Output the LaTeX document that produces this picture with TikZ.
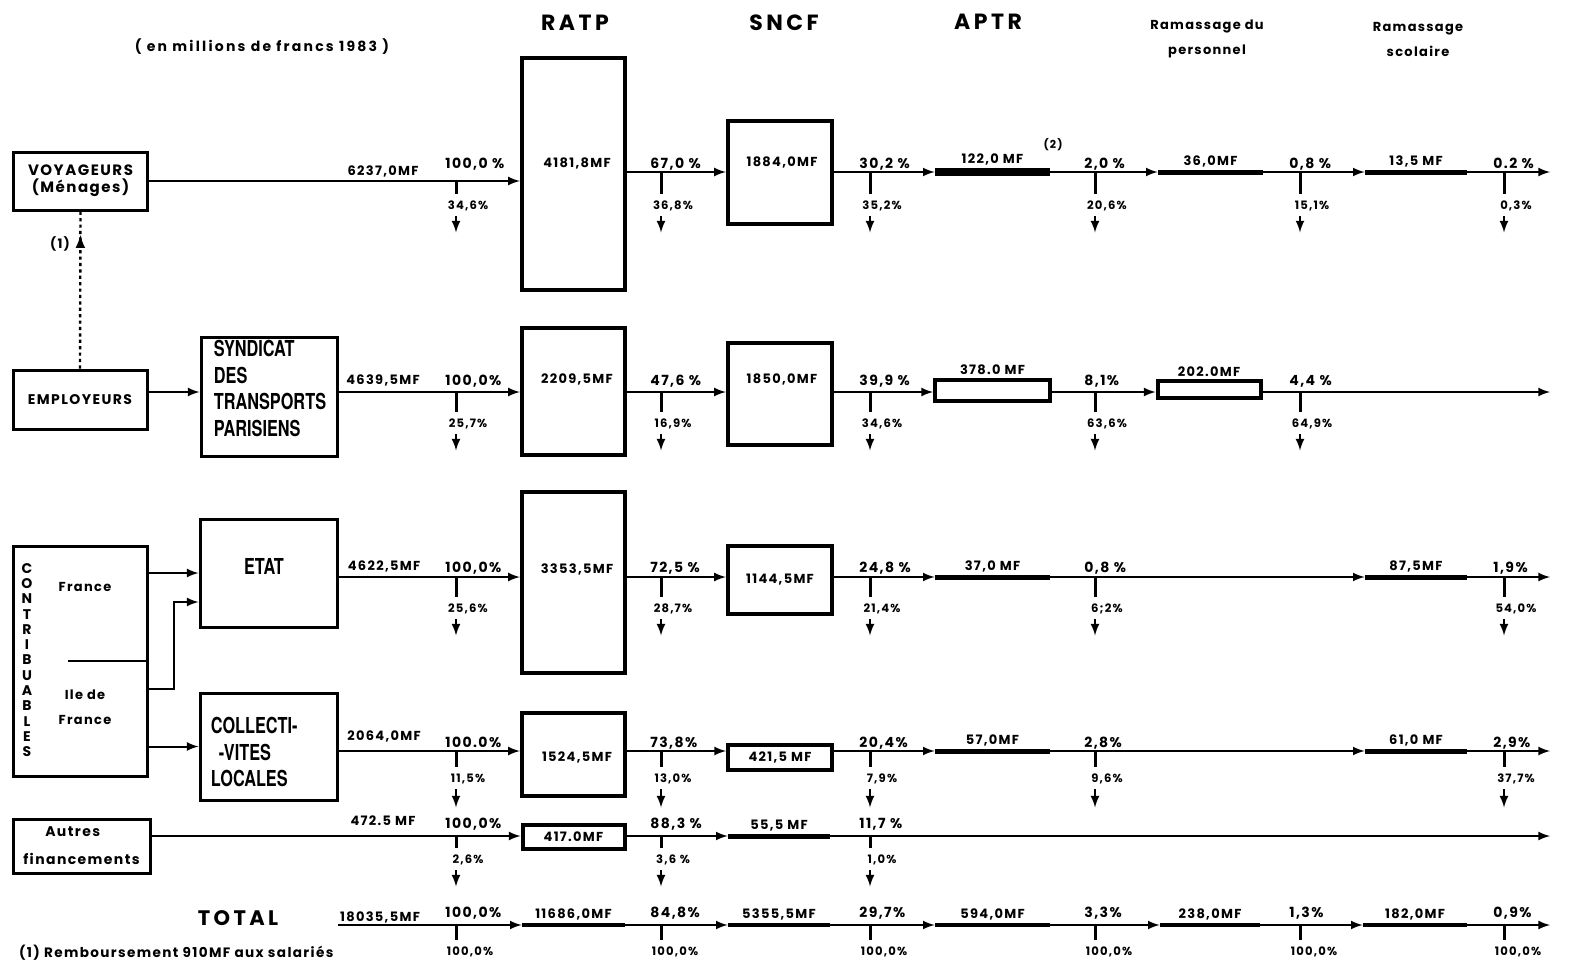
\documentclass[tikz,border=0pt]{standalone}
\usepackage{fontspec}
\setmainfont{Poppins}[LetterSpace=10]
\newfontfamily\headfont{Poppins}[LetterSpace=16]
\newfontfamily\condfont{TeX Gyre Heros}[FakeStretch=0.74]
\usepackage{tikz}
\usetikzlibrary{positioning}
\usetikzlibrary{decorations.markings}

\tikzset{
	flow/.style={-latex,line width=1pt},
	tick/.style={line width=1.5pt},
	bigbox/.style={draw,line width=2.2pt,inner sep=0pt},
	srcbox/.style={draw,line width=1.5pt,inner sep=0pt},
	mfbar/.style={fill,inner sep=0pt,minimum height=#1},
	mfbar/.default=2pt,
	slot/.style={draw,line width=2pt,inner sep=0pt},
	pct/.style={font=\fontsize{7}{8}\selectfont\bfseries,inner sep=0pt,anchor=base west},
	mf/.style={font=\fontsize{6.5}{7}\selectfont\bfseries,inner sep=1pt},
	sub/.style={font=\fontsize{5.8}{6}\selectfont\bfseries,inner sep=0.5pt},
	head/.style={font=\headfont\fontsize{11}{12}\selectfont\bfseries},
	txt/.style={font=\fontsize{6.5}{12.5}\selectfont\bfseries},
	cond/.style={font=\condfont\fontsize{11}{13.4}\selectfont\bfseries,align=left,inner sep=0pt}
}

\begin{document}
\begin{tikzpicture}[x=0.5pt,y=-0.5pt]
	\useasboundingbox (0,0) rectangle (1575,964);
	
	% titles
	\node [txt,font=\headfont\fontsize{7}{8}\selectfont\bfseries] (unit) at (262,47) {( en millions de francs 1983 )};
	\node [head] (hratp) at (575,23) {RATP};
	\node [head] (hsncf) at (784,23) {SNCF};
	\node [head] (haptr) at (988,22) {APTR};
	\node [txt,align=center] (hperso) at (1207,39) {Ramassage du\\personnel};
	\node [txt,align=center] (hscol) at (1418,39) {Ramassage\\scolaire};
	
	% sources
	\node [srcbox,minimum width=67pt,minimum height=29pt,align=center,font=\fontsize{7.5}{8.5}\selectfont\bfseries] (voy) at (80.5,181) {VOYAGEURS\\(Ménages)};
	\node [srcbox,minimum width=67pt,minimum height=29.5pt,font=\fontsize{7}{8}\selectfont\bfseries] (emp) at (80,399.5) {EMPLOYEURS};
	\draw [line width=1.2pt,dash pattern=on 1.6pt off 1.6pt,postaction={decorate},decoration={markings,mark=at position 0.85 with {\arrow{latex}}}] (emp.north) -- (voy.south);
	\node [txt] (note1) at (60,244) {(1)};
	\node [srcbox,minimum width=67pt,minimum height=115pt] (contrib) at (80,661) {};
	\node [font=\fontsize{7}{7.65}\selectfont\bfseries,align=center,inner sep=0pt] (contribtxt) at (27,660) {C\\O\\N\\T\\R\\I\\B\\U\\A\\B\\L\\E\\S};
	\node [txt] (fr) at (85,587) {France};
	\node [txt,align=center] (idf) at (85,707) {Ile de\\France};
	\coordinate (divl) at (68,661);
	\draw [line width=1.2pt] (divl) -- (divl -| contrib.east);
	\node [srcbox,minimum width=68.5pt,minimum height=27pt,align=left,font=\fontsize{7}{14}\selectfont\bfseries] (autres) at (81.5,846) {\hspace{11pt}Autres\\financements};
	
	% intermediaries
	\node [srcbox,minimum width=68pt,minimum height=59.5pt] (stp) at (269,396.5) {};
	\node [cond,anchor=north west] (stptxt) at ([xshift=7pt,yshift=-2pt]stp.north west) {SYNDICAT\\DES\\TRANSPORTS\\PARISIENS};
	\node [srcbox,minimum width=68.5pt,minimum height=54pt] (etat) at (268.5,573) {};
	\node [cond] (etattxt) at (264,566) {ETAT};
	\node [srcbox,minimum width=68.5pt,minimum height=53.5pt] (coll) at (268.5,746.5) {};
	\node [cond,anchor=north west] (colltxt) at ([xshift=6pt,yshift=-12.5pt]coll.north west) {COLLECTI-\\\hspace{4pt}-VITES\\LOCALES};
	\node [font=\headfont\fontsize{10.5}{12}\selectfont\bfseries] (total) at (238,918) {TOTAL};
	\node [txt,font=\fontsize{6.8}{8}\selectfont\bfseries,anchor=west] (foot) at (12,953) {(1) Remboursement 910MF aux salariés};
	
	% row lines
	\coordinate (r1) at (0,172);
	\coordinate (r2) at (0,392);
	\coordinate (r3) at (0,577);
	\coordinate (r4) at (0,751);
	\coordinate (r5) at (0,836);
	\coordinate (r6) at (0,925);
	
	% row 1
	\node [bigbox,minimum width=51.5pt,minimum height=116pt] (ratp1) at (573.5,174) {};
	\node [mf] at (577,163) {4181,8MF};
	\node [bigbox,minimum width=52pt,minimum height=51.5pt] (sncf1) at (780,172.5) {};
	\node [mf] at (782,162) {1884,0MF};
	\node [mfbar=4pt,minimum width=57.5pt,label={[mf]above:{122,0 MF}}] (aptr1) at (992.5,172) {};
	\node [font=\fontsize{5.5}{6}\selectfont\bfseries] (note2) at (1053,145) {(2)};
	\node [mfbar=2.5pt,minimum width=52.5pt,label={[mf]above:{36,0MF}}] (perso1) at (1210.5,172) {};
	\node [mfbar=2.5pt,minimum width=51pt,label={[mf]above:{13,5 MF}}] (scol1) at (1416,172) {};
	\coordinate (end1) at (1550,172);
	\node [mf,anchor=base] at (383,175) {6237,0MF};
	\draw [flow] (voy.east) -- (voy.east -| ratp1.west);
	\draw [flow] (ratp1.east |- r1) -- (sncf1.west |- r1);
	\draw [flow] (sncf1.east |- r1) -- (aptr1.west);
	\draw [flow] (aptr1.east) -- (perso1.west);
	\draw [flow] (perso1.east) -- (scol1.west);
	\draw [flow] (scol1.east) -- (end1);
	\foreach \n/\x/\y/\tp/\bt in {a/456/181/{100,0 \%}/{34,6\%},b/661/172/{67,0 \%}/{36,8\%},c/870/172/{30,2 \%}/{35,2\%},d/1095/172/{2,0 \%}/{20,6\%},e/1300/172/{0,8 \%}/{15,1\%},f/1504/172/{0.2 \%}/{0,3\%}}{
		\coordinate (v1\n) at (\x,\y);
		\node [pct] (p1\n) at (\x-11,168) {\tp};
		\node [sub] (s1\n) at (\x+12,206) {\bt};
		\draw [tick] (v1\n) -- ([yshift=3pt]s1\n.north -| v1\n);
		\draw [flow] ([yshift=-2pt]s1\n.south -| v1\n) -- ++(0,16);
	}
	
	% row 2
	\node [bigbox,minimum width=51.5pt,minimum height=63.5pt] (ratp2) at (573.5,391.5) {};
	\node [mf] at (577,379) {2209,5MF};
	\node [bigbox,minimum width=52pt,minimum height=51pt] (sncf2) at (780,394) {};
	\node [mf] at (782,379) {1850,0MF};
	\node [slot,minimum width=57.5pt,minimum height=10.5pt,label={[mf]above:{378.0 MF}}] (aptr2) at (992.5,390) {};
	\node [slot,minimum width=51.5pt,minimum height=8.5pt,label={[mf]above:{202.0MF}}] (perso2) at (1209,389.5) {};
	\coordinate (end2) at (1550,392);
	\node [mf,anchor=base] at (383,384) {4639,5MF};
	\draw [flow] (emp.east |- r2) -- (stp.west |- r2);
	\draw [flow] (stp.east |- r2) -- (ratp2.west |- r2);
	\draw [flow] (ratp2.east |- r2) -- (sncf2.west |- r2);
	\draw [flow] (sncf2.east |- r2) -- (aptr2.west |- r2);
	\draw [flow] (aptr2.east |- r2) -- (perso2.west |- r2);
	\draw [flow] (perso2.east |- r2) -- (end2);
	\foreach \n/\x/\tp/\bt in {a/456/{100,0\%}/{25,7\%},b/661/{47,6 \%}/{16,9\%},c/870/{39,9 \%}/{34,6\%},d/1095/{8,1\%}/{63,6\%},e/1300/{4,4 \%}/{64,9\%}}{
		\coordinate (v2\n) at (\x,392);
		\node [pct] (p2\n) at (\x-11,385) {\tp};
		\node [sub] (s2\n) at (\x+12,424) {\bt};
		\draw [tick] (v2\n) -- ([yshift=3pt]s2\n.north -| v2\n);
		\draw [flow] ([yshift=-2pt]s2\n.south -| v2\n) -- ++(0,16);
	}
	
	% row 3
	\node [bigbox,minimum width=51.5pt,minimum height=90.5pt] (ratp3) at (573.5,582.5) {};
	\node [mf] at (577,569) {3353,5MF};
	\node [bigbox,minimum width=52pt,minimum height=34pt,mf] (sncf3) at (780,580) {1144,5MF};
	\node [mfbar=2.5pt,minimum width=57.5pt,label={[mf]above:{37,0 MF}}] (aptr3) at (992.5,577) {};
	\node [mfbar=2.5pt,minimum width=51pt,label={[mf]above:{87,5MF}}] (scol3) at (1416,577) {};
	\coordinate (end3) at (1550,577);
	\node [mf,anchor=base] at (384,570) {4622,5MF};
	\draw [flow] (contrib.east |- etat.west) -- (etat.west);
	\coordinate (ile) at (0,689);
	\coordinate (bend) at (174,602);
	\draw [flow] (contrib.east |- ile) -| (bend) -- (etat.west |- bend);
	\draw [flow] (etat.east |- r3) -- (ratp3.west |- r3);
	\draw [flow] (ratp3.east |- r3) -- (sncf3.west |- r3);
	\draw [flow] (sncf3.east |- r3) -- (aptr3.west);
	\draw [flow] (aptr3.east) -- (scol3.west);
	\draw [flow] (scol3.east) -- (end3);
	\foreach \n/\x/\tp/\bt in {a/456/{100,0\%}/{25,6\%},b/661/{72,5 \%}/{28,7\%},c/870/{24,8 \%}/{21,4\%},d/1095/{0,8 \%}/{6;2\%},f/1504/{1,9\%}/{54,0\%}}{
		\coordinate (v3\n) at (\x,577);
		\node [pct] (p3\n) at (\x-11,572) {\tp};
		\node [sub] (s3\n) at (\x+12,609) {\bt};
		\draw [tick] (v3\n) -- ([yshift=3pt]s3\n.north -| v3\n);
		\draw [flow] ([yshift=-2pt]s3\n.south -| v3\n) -- ++(0,16);
	}
	
	% row 4
	\node [bigbox,minimum width=51.5pt,minimum height=41.5pt] (ratp4) at (573.5,754.5) {};
	\node [mf] at (577,757) {1524,5MF};
	\node [mf,slot,minimum width=52pt,minimum height=12.5pt] (sncf4) at (780,757.5) {421,5 MF};
	\node [mfbar=2.5pt,minimum width=57.5pt,label={[mf]above:{57,0MF}}] (aptr4) at (992.5,751) {};
	\node [mfbar=2.5pt,minimum width=51pt,label={[mf]above:{61,0 MF}}] (scol4) at (1416,751) {};
	\coordinate (end4) at (1550,751);
	\node [mf,anchor=base] at (384,740) {2064,0MF};
	\draw [flow] (contrib.east |- coll.west) -- (coll.west);
	\draw [flow] (coll.east |- r4) -- (ratp4.west |- r4);
	\draw [flow] (ratp4.east |- r4) -- (sncf4.west |- r4);
	\draw [flow] (sncf4.east |- r4) -- (aptr4.west);
	\draw [flow] (aptr4.east) -- (scol4.west);
	\draw [flow] (scol4.east) -- (end4);
	\foreach \n/\x/\tp/\bt in {a/456/{100.0\%}/{11,5\%},b/661/{73,8\%}/{13,0\%},c/870/{20,4\%}/{7,9\%},d/1095/{2,8\%}/{9,6\%},f/1504/{2,9\%}/{37,7\%}}{
		\coordinate (v4\n) at (\x,751);
		\node [pct] (p4\n) at (\x-11,747) {\tp};
		\node [sub] (s4\n) at (\x+12,779) {\bt};
		\draw [tick] (v4\n) -- ([yshift=3pt]s4\n.north -| v4\n);
		\draw [flow] ([yshift=-2pt]s4\n.south -| v4\n) -- ++(0,18);
	}
	
	% row 5
	\node [mf,slot,minimum width=51pt,minimum height=12pt] (ratp5) at (573.5,837) {417.0MF};
	\node [mfbar=2.5pt,minimum width=51pt,label={[mf]above:{55,5 MF}}] (sncf5) at (779,836) {};
	\coordinate (end5) at (1550,836);
	\node [mf,anchor=base] at (383,825) {472.5 MF};
	\draw [flow] (autres.east |- r5) -- (ratp5.west |- r5);
	\draw [flow] (ratp5.east |- r5) -- (sncf5.west);
	\draw [flow] (sncf5.east) -- (end5);
	\foreach \n/\x/\tp/\bt in {a/456/{100,0\%}/{2,6\%},b/661/{88,3 \%}/{3,6 \%},c/870/{11,7 \%}/{1,0\%}}{
		\coordinate (v5\n) at (\x,836);
		\node [pct] (p5\n) at (\x-11,828) {\tp};
		\node [sub] (s5\n) at (\x+12,860) {\bt};
		\draw [tick] (v5\n) -- ([yshift=3pt]s5\n.north -| v5\n);
		\draw [flow] ([yshift=-2pt]s5\n.south -| v5\n) -- ++(0,16);
	}
	
	% row 6
	\coordinate (tot0) at (338,925);
	\node [mfbar=2pt,minimum width=51.5pt,label={[mf]above:{11686,0MF}}] (ratp6) at (573.5,925) {};
	\node [mfbar=2pt,minimum width=51pt,label={[mf]above:{5355,5MF}}] (sncf6) at (779,925) {};
	\node [mfbar=2pt,minimum width=57.5pt,label={[mf]above:{594,0MF}}] (aptr6) at (992.5,925) {};
	\node [mfbar=2pt,minimum width=50pt,label={[mf]above:{238,0MF}}] (perso6) at (1210,925) {};
	\node [mfbar=2pt,minimum width=52pt,label={[mf]above:{182,0MF}}] (scol6) at (1415,925) {};
	\coordinate (end6) at (1550,925);
	\node [mf,anchor=base] at (380,921) {18035,5MF};
	\draw [flow] (tot0) -- (ratp6.west);
	\draw [flow] (ratp6.east) -- (sncf6.west);
	\draw [flow] (sncf6.east) -- (aptr6.west);
	\draw [flow] (aptr6.east) -- (perso6.west);
	\draw [flow] (perso6.east) -- (scol6.west);
	\draw [flow] (scol6.east) -- (end6);
	\foreach \n/\x/\tp in {a/456/{100,0\%},b/661/{84,8\%},c/870/{29,7\%},d/1095/{3,3\%},e/1300/{1,3\%},f/1504/{0,9\%}}{
		\coordinate (v6\n) at (\x,925);
		\node [pct] (p6\n) at (\x-11,917) {\tp};
		\node [sub] (s6\n) at (\x+14,952) {100,0\%};
		\draw [tick] (v6\n) -- ([yshift=3pt]s6\n.north -| v6\n);
	}
\end{tikzpicture}
\end{document}
